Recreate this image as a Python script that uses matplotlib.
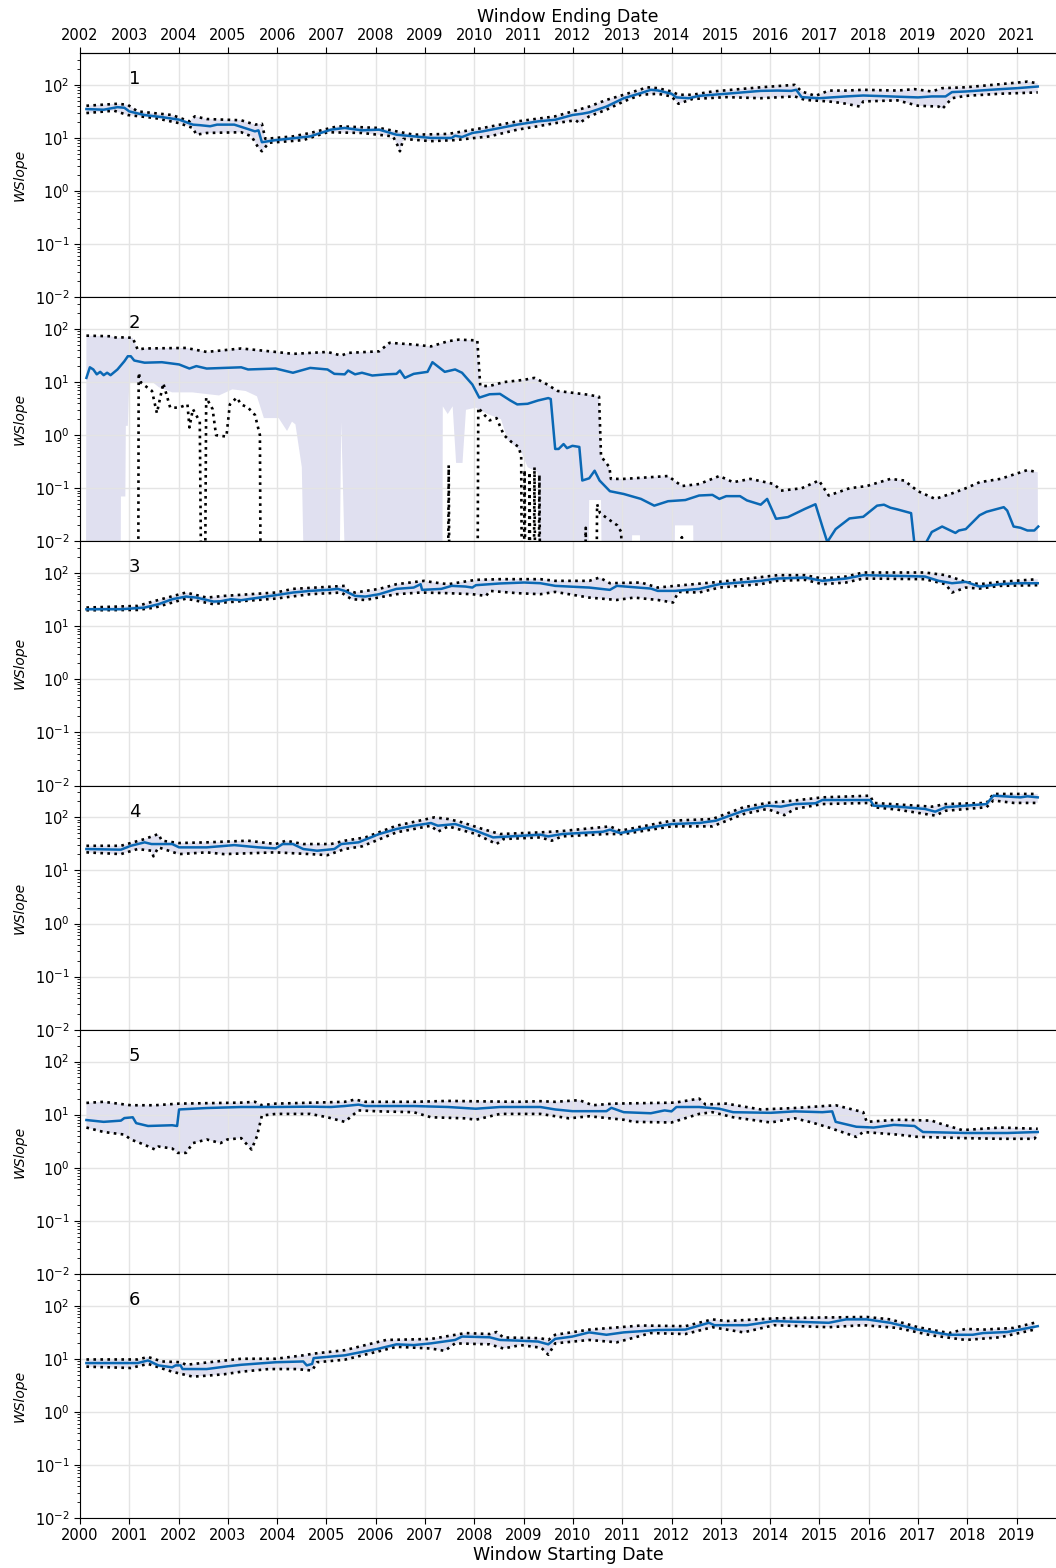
import numpy as np
import matplotlib
matplotlib.use("Agg")
import matplotlib.pyplot as plt
from matplotlib.ticker import FixedLocator, FormatStrFormatter

# values, x in decimal years (window start)
BELOW = 1e-4  # stands for "below the axis floor"

# ---- panel 1
p1_med_x = [2000.13, 2000.48, 2000.76, 2000.9, 2001.0, 2001.31, 2001.66, 2002.01, 2002.29, 2002.43, 2002.64, 2002.78,
            2003.13, 2003.34, 2003.55, 2003.62, 2003.69, 2003.97, 2004.39, 2004.67, 2005.09, 2005.37, 2005.72, 2006.07,
            2006.42, 2006.77, 2007.12, 2007.54, 2007.61, 2007.75, 2007.96, 2008.17, 2008.52, 2008.87, 2009.29, 2009.64,
            2009.99, 2010.19, 2010.33, 2010.68, 2011.03, 2011.38, 2011.58, 2011.72, 2012.0, 2012.1, 2012.35, 2012.56,
            2013.11, 2013.81, 2014.15, 2014.43, 2014.53, 2014.64, 2014.99, 2015.54, 2015.89, 2016.44, 2017.0, 2017.28,
            2017.56, 2017.69, 2017.97, 2018.67, 2019.01, 2019.43]
p1_med = [35, 34, 38, 37, 31.6, 27, 24.7, 22.1, 17.8, 17.4, 16.6, 17.8,
          17.8, 15.4, 13.3, 13.9, 8.3, 9.1, 10, 10.7, 14.3, 15.4, 13.9, 14.3,
          11.5, 10.7, 10, 10, 11, 10.4, 12.4, 13.3, 15.4, 17.8, 20.5, 22,
          27, 28.6, 30.3, 39, 56, 70, 80.6, 78.3, 68, 58, 56, 62,
          68, 77, 78, 77, 80.6, 58.7, 56, 60.5, 63, 60.5, 58, 60.5,
          60.5, 73, 75, 83, 86.6, 93]
p1_hi_x = [2000.13, 2000.76, 2000.97, 2001.17, 2001.87, 2002.22, 2002.33, 2002.57, 2003.27, 2003.55, 2003.69, 2003.76,
           2004.32, 2004.67, 2005.23, 2006.07, 2006.42, 2006.77, 2007.47, 2008.17, 2008.87, 2009.64, 2009.99, 2010.33,
           2010.68, 2011.03, 2011.51, 2011.72, 2012.0, 2012.14, 2012.42, 2012.83, 2013.81, 2014.5, 2014.64, 2014.92,
           2015.19, 2015.54, 2015.89, 2016.58, 2016.93, 2017.28, 2017.49, 2017.97, 2018.67, 2019.22, 2019.43]
p1_hi = [40.4, 44, 42, 31.6, 27, 20.5, 25.5, 22.7, 21.5, 17.8, 18.5, 9.6,
         10.7, 12.4, 16.6, 15.4, 13.3, 11.5, 11.9, 15.4, 20.5, 25.5, 31.6, 39,
         52, 65, 90, 86.6, 75, 65, 65, 75, 90, 100, 75, 62,
         78, 78, 80.6, 78, 83, 75, 86.6, 90, 103, 115, 107]
p1_lo_x = [2000.13, 2000.69, 2000.97, 2001.52, 2002.01, 2002.29, 2002.36, 2002.57, 2003.27, 2003.48, 2003.62, 2003.69,
           2003.83, 2004.53, 2005.02, 2005.72, 2006.35, 2006.45, 2006.49, 2006.56, 2007.12, 2007.61, 2008.31, 2008.87,
           2009.29, 2009.64, 2010.06, 2010.13, 2010.33, 2010.68, 2011.03, 2011.38, 2011.72, 2012.0, 2012.14, 2012.42,
           2013.11, 2013.81, 2014.5, 2014.71, 2015.19, 2015.47, 2015.82, 2015.89, 2016.58, 2017.0, 2017.42, 2017.49,
           2017.69, 2017.97, 2018.67, 2019.43]
p1_lo = [29.4, 32.6, 27, 23.7, 19, 15.4, 11.5, 12.4, 12.8, 10.7, 6.5, 5.6,
         8.1, 9.1, 12.8, 12.4, 10.7, 7.0, 5.6, 9.6, 8.7, 9.1, 10.7, 14.3,
         16.6, 19, 21.5, 19, 25.5, 34, 48.7, 65, 68, 60.5, 44, 54,
         58.7, 56, 60.5, 52, 48.7, 45.3, 39, 48.7, 51, 40.4, 39, 35,
         56, 62, 68, 72]

# ---- panel 2
p2_med_x = [2000.13, 2000.2, 2000.27, 2000.34, 2000.41, 2000.48, 2000.55, 2000.62, 2000.76, 2000.9, 2000.97, 2001.03,
            2001.1, 2001.31, 2001.66, 2002.01, 2002.22, 2002.36, 2002.57, 2003.27, 2003.41, 2003.97, 2004.32, 2004.67,
            2005.02, 2005.16, 2005.37, 2005.44, 2005.58, 2005.72, 2005.93, 2006.21, 2006.42, 2006.49, 2006.59, 2006.77,
            2007.05, 2007.15, 2007.4, 2007.61, 2007.75, 2007.96, 2008.1, 2008.31, 2008.52, 2008.73, 2008.87, 2009.08,
            2009.29, 2009.5, 2009.55, 2009.64, 2009.71, 2009.81, 2009.88, 2009.99, 2010.13, 2010.19, 2010.33, 2010.44,
            2010.54, 2010.75, 2011.03, 2011.38, 2011.65, 2011.93, 2012.28, 2012.56, 2012.83, 2012.97, 2013.11, 2013.39,
            2013.53, 2013.81, 2013.94, 2014.12, 2014.36, 2014.5, 2014.71, 2014.92, 2015.06, 2015.16, 2015.33, 2015.61,
            2015.89, 2016.17, 2016.31, 2016.44, 2016.58, 2016.86, 2016.92, 2016.97, 2017.17, 2017.28, 2017.49, 2017.76,
            2017.83, 2017.97, 2018.25, 2018.39, 2018.74, 2018.81, 2018.94, 2019.08, 2019.22, 2019.36, 2019.44]
p2_med = [12, 19, 17.3, 14, 15.6, 13.5, 15, 13.5, 17.3, 24.7, 30.7, 30.7,
          25.5, 23.2, 23.7, 21.5, 18, 20, 18, 19, 17.3, 18, 15, 18.5,
          17.3, 14.3, 14, 16.5, 14, 15, 13.3, 14, 14.3, 16.5, 12, 14.3,
          15.6, 23.7, 15.6, 17.3, 15, 9, 5.1, 5.9, 6.0, 4.5, 3.8, 3.9,
          4.5, 5.0, 4.8, 0.55, 0.55, 0.68, 0.57, 0.63, 0.6, 0.14, 0.154, 0.214,
          0.14, 0.088, 0.078, 0.063, 0.047, 0.057, 0.06, 0.073, 0.075, 0.063, 0.071, 0.071,
          0.059, 0.049, 0.063, 0.0266, 0.0286, 0.033, 0.041, 0.05, 0.019, 0.0097, 0.017, 0.027,
          0.029, 0.047, 0.049, 0.043, 0.04, 0.034, 0.0105, 0.0044, 0.0097, 0.015, 0.019, 0.0144,
          0.016, 0.017, 0.031, 0.036, 0.044, 0.038, 0.019, 0.018, 0.016, 0.016, 0.019]
p2_hi_x = [2000.13, 2000.62, 2000.76, 2000.9, 2001.07, 2001.17, 2001.31, 2002.15, 2002.57, 2003.27, 2003.97, 2004.32,
           2005.02, 2005.3, 2005.44, 2006.07, 2006.28, 2006.77, 2007.12, 2007.47, 2007.68, 2008.06, 2008.12, 2008.3,
           2008.6, 2009.0, 2009.22, 2009.42, 2009.69, 2010.3, 2010.53, 2010.57, 2010.74, 2010.77, 2011.03, 2011.93,
           2012.21, 2012.56, 2012.97, 2013.25, 2013.6, 2014.08, 2014.22, 2014.64, 2014.99, 2015.19, 2015.61, 2015.96,
           2016.44, 2016.72, 2017.0, 2017.35, 2017.69, 2017.97, 2018.25, 2018.67, 2019.22, 2019.43]
p2_hi = [75, 73, 68, 70, 68, 41, 43, 44, 37, 43, 37, 34,
         37, 31.6, 35.5, 38, 55, 51, 47, 59, 63, 61, 8.5, 8.4,
         10, 11, 12, 9.7, 6.8, 5.8, 5.3, 0.4, 0.25, 0.15, 0.15, 0.17,
         0.11, 0.12, 0.17, 0.13, 0.15, 0.12, 0.09, 0.10, 0.14, 0.073, 0.10, 0.11,
         0.15, 0.14, 0.088, 0.063, 0.08, 0.10, 0.13, 0.15, 0.22, 0.20]
p2_lo_x = [2000.12, 2001.18, 2001.19, 2001.24, 2001.46, 2001.56, 2001.69, 2001.83, 2002.01, 2002.18, 2002.22, 2002.29,
           2002.43, 2002.47, 2002.53, 2002.56, 2002.69, 2002.76, 2002.97, 2003.04, 2003.18, 2003.27, 2003.41, 2003.55,
           2003.65, 2003.67, 2007.46, 2007.48, 2007.50, 2008.06, 2008.08, 2008.17, 2008.31, 2008.45, 2008.6, 2008.75,
           2008.9, 2008.95, 2008.97, 2009.0, 2009.02, 2009.04, 2009.1, 2009.12, 2009.14, 2009.2, 2009.22, 2009.24,
           2009.3, 2009.32, 2009.34, 2010.24, 2010.26, 2010.28, 2010.47, 2010.49, 2010.55, 2010.75, 2010.9, 2010.98,
           2011.0, 2012.2, 2012.21, 2012.22, 2019.44]
p2_lo = [BELOW, BELOW, 15, 9.7, 6.8, 2.6, 9.5, 3.3, 3.3, 3.8, 1.4, 3.1,
         1.8, BELOW, BELOW, 5.1, 3.1, 1.0, 0.94, 3.8, 5.1, 3.8, 3.3, 2.4,
         1.0, BELOW, BELOW, 0.27, BELOW, BELOW, 3.3, 2.6, 1.9, 2.1, 1.0, 0.75,
         0.6, 0.4, BELOW, BELOW, 0.22, BELOW, BELOW, 0.2, BELOW, BELOW, 0.25, BELOW,
         BELOW, 0.18, BELOW, BELOW, 0.018, BELOW, BELOW, 0.05, 0.034, 0.025, 0.02, 0.015,
         BELOW, BELOW, 0.012, BELOW, BELOW]
# lower edge of the shaded band in panel 2 (it differs from the dotted bound)
p2_band_lo_x = [2000.12, 2000.82, 2000.83, 2000.92, 2000.93, 2000.97, 2001.0, 2001.47, 2001.6, 2001.87, 2002.28, 2002.82,
                2003.09, 2003.36, 2003.59, 2003.73, 2004.03, 2004.2, 2004.3, 2004.37, 2004.5, 2004.57, 2005.25, 2005.3,
                2005.35, 2005.42, 2007.35, 2007.36, 2007.46, 2007.56, 2007.63, 2007.76, 2007.83, 2008.03, 2008.27, 2008.54,
                2008.68, 2008.95, 2009.08, 2009.28, 2009.35, 2010.3, 2010.33, 2010.57, 2010.6, 2011.18, 2011.2, 2011.36,
                2011.38, 2012.05, 2012.07, 2012.44, 2012.46, 2019.44]
p2_band_lo = [BELOW, BELOW, 0.07, 0.07, 1.5, 1.5, 10, 10, 8, 6.4, 6.4, 5.6,
              7.3, 6.8, 5.4, 2.1, 2.1, 1.2, 1.8, 1.6, 0.25, BELOW, BELOW, 1.8,
              0.03, BELOW, BELOW, 3.5, 2.5, 3.5, 0.3, 0.3, 3, 3.3, 2.5, 2.0,
              0.8, 0.5, 0.25, 0.2, BELOW, BELOW, 0.06, 0.06, BELOW, BELOW, 0.013, 0.013,
              BELOW, BELOW, 0.02, 0.02, BELOW, BELOW]

# ---- panel 3
p3_med_x = [2000.13, 2000.83, 2001.31, 2001.59, 2001.87, 2002.15, 2002.36, 2002.71, 2002.85, 2003.06, 2003.27, 2003.97,
            2004.32, 2004.67, 2005.02, 2005.23, 2005.37, 2005.58, 2005.79, 2006.07, 2006.42, 2006.77, 2006.91, 2006.94,
            2007.33, 2007.54, 2007.82, 2007.96, 2008.03, 2008.52, 2009.01, 2009.34, 2009.64, 2010.33, 2010.75, 2010.89,
            2011.58, 2011.72, 2012.07, 2012.56, 2012.97, 2013.81, 2014.15, 2014.71, 2015.06, 2015.54, 2015.89, 2016.58,
            2017.14, 2017.42, 2017.69, 2017.97, 2018.25, 2018.67, 2019.01, 2019.43]
p3_med = [20.9, 20.9, 22.5, 26, 32.3, 36.3, 34.7, 29.2, 29.6, 32.3, 31, 38.5,
          43.2, 46.4, 48.5, 50.6, 46.4, 37.3, 36.3, 40.2, 50.6, 53.6, 62, 48.5,
          50.6, 57.7, 56, 53.6, 59.4, 64, 66.7, 64.7, 57.7, 53.6, 48.5, 57.7,
          51.3, 46.4, 46.4, 50.6, 62, 71.7, 79.3, 82.8, 71.7, 79.3, 91.7, 89,
          86.5, 71.7, 64.7, 68.6, 56, 62, 64.7, 64.7]
p3_hi_x = [2000.13, 2001.17, 2001.52, 2002.15, 2002.57, 2002.92, 2003.97, 2004.32, 2005.37, 2005.44, 2005.58, 2006.07,
           2006.42, 2006.98, 2007.19, 2007.47, 2008.03, 2008.52, 2009.34, 2009.64, 2010.33, 2010.54, 2010.75, 2011.38,
           2011.72, 2012.07, 2012.97, 2014.15, 2014.71, 2015.06, 2015.54, 2015.89, 2017.14, 2017.56, 2017.97, 2018.25,
           2018.67, 2019.43]
p3_hi = [22.5, 24.2, 30, 43.2, 34.7, 37.3, 43.2, 50.6, 57.7, 46.4, 43.2, 50.6,
         62, 71.7, 66.7, 62, 74.9, 77.1, 77.1, 71.7, 71.7, 82.8, 64.7, 66.7,
         53.6, 57.7, 68.6, 91.7, 91.7, 79.3, 86.5, 103, 103, 91.7, 68.6, 62,
         68.6, 77.1]
p3_lo_x = [2000.13, 2001.17, 2001.52, 2002.15, 2002.71, 2002.92, 2003.97, 2004.67, 2005.3, 2005.51, 2005.79, 2006.42,
           2006.91, 2007.47, 2007.96, 2008.24, 2008.31, 2008.87, 2009.34, 2009.64, 2010.33, 2010.89, 2011.24, 2011.72,
           2012.03, 2012.14, 2012.56, 2012.97, 2013.81, 2014.15, 2014.71, 2015.06, 2015.54, 2015.89, 2017.14, 2017.56,
           2017.69, 2017.97, 2018.25, 2018.67, 2019.43]
p3_lo = [20, 20.3, 22.5, 33.2, 26, 28, 33.2, 40.2, 43.2, 32.3, 31.3, 40.2,
         43.2, 42, 40.2, 37.3, 46.4, 42, 40.2, 44.4, 34.7, 31.3, 34.7, 31.3,
         28, 44.4, 43.2, 53.6, 62, 71.7, 74.9, 62, 66.7, 79.3, 77.1, 62,
         43.2, 53.6, 51.3, 57.7, 59.4]

# ---- panel 4
p4_med_x = [2000.13, 2000.83, 2001.03, 2001.31, 2001.45, 2001.87, 2002.01, 2002.57, 2003.13, 2003.62, 2003.97, 2004.11,
            2004.32, 2004.53, 2004.81, 2005.16, 2005.3, 2005.65, 2006.07, 2006.42, 2006.77, 2007.12, 2007.26, 2007.61,
            2008.03, 2008.38, 2008.73, 2009.34, 2009.5, 2009.78, 2010.61, 2010.75, 2010.96, 2011.38, 2012.0, 2012.56,
            2012.9, 2013.46, 2013.94, 2014.22, 2014.5, 2014.92, 2015.06, 2016.03, 2016.1, 2016.58, 2017.14, 2017.35,
            2017.56, 2018.39, 2018.53, 2019.08, 2019.22, 2019.43]
p4_med = [25.3, 24.6, 29.1, 33.8, 31.4, 31.4, 27.2, 27.2, 30, 27.2, 26, 31.4,
          31.4, 25.3, 23.5, 25.3, 31.4, 33.8, 48.5, 60.2, 69.6, 78.2, 69.6, 74.8,
          56, 41.9, 43.8, 47.1, 43.8, 48.5, 53.6, 58.5, 50.6, 60.2, 74.8, 78.2,
          86.5, 133, 166, 159, 178, 184, 212, 212, 166, 159, 144, 128,
          155, 178, 256, 238, 249, 238]
p4_hi_x = [2000.13, 2000.83, 2001.31, 2001.59, 2001.66, 2002.01, 2002.57, 2003.41, 2003.97, 2004.18, 2004.53, 2005.09,
           2005.37, 2005.79, 2006.42, 2007.19, 2007.47, 2007.75, 2008.17, 2008.52, 2009.34, 2009.78, 2010.75, 2010.96,
           2012.0, 2012.83, 2013.46, 2013.94, 2014.5, 2015.06, 2016.03, 2016.1, 2017.28, 2017.56, 2018.39, 2018.53,
           2019.43]
p4_hi = [29.1, 29.1, 39, 48.5, 36.3, 32.8, 33.8, 36.3, 31.4, 36.3, 31.4, 31.4,
         36.3, 41.9, 69.6, 100, 93, 80.5, 60.2, 48.5, 52.1, 55.2, 67.6, 56,
         86.5, 93, 155, 187, 208, 238, 256, 187, 159, 178, 187, 276,
         276]
p4_lo_x = [2000.13, 2000.83, 2001.17, 2001.45, 2001.49, 2001.59, 2002.01, 2002.57, 2002.92, 2003.97, 2004.67, 2005.02,
           2005.37, 2005.72, 2006.42, 2007.12, 2007.26, 2007.47, 2008.03, 2008.45, 2008.59, 2009.34, 2009.57, 2009.78,
           2010.68, 2011.03, 2012.0, 2012.83, 2013.46, 2013.94, 2014.29, 2014.5, 2015.06, 2016.03, 2016.1, 2016.58,
           2017.35, 2017.56, 2018.39, 2018.53, 2018.94, 2019.43]
p4_lo = [21.9, 20.3, 25.3, 23.5, 18.4, 27.2, 20.3, 21.9, 20.3, 21.9, 20.3, 19.4,
         25.3, 28.4, 52.1, 69.6, 53.6, 67.6, 48.5, 31.4, 39, 41.9, 36.3, 43.8,
         48.5, 48.5, 67.6, 67.6, 115, 144, 110, 144, 178, 187, 155, 140,
         108, 133, 155, 208, 187, 187]

# ---- panel 5
p5_med_x = [2000.13, 2000.48, 2000.83, 2000.9, 2001.07, 2001.14, 2001.38, 2001.87, 2001.97, 2002.01, 2002.57, 2003.27,
            2003.97, 2004.67, 2005.09, 2005.37, 2005.65, 2005.79, 2006.77, 2007.47, 2008.03, 2008.52, 2009.34, 2009.64,
            2009.99, 2010.68, 2010.78, 2011.03, 2011.58, 2011.86, 2012.0, 2012.1, 2012.56, 2012.97, 2013.25, 2014.01,
            2014.5, 2015.06, 2015.26, 2015.33, 2015.75, 2016.1, 2016.51, 2016.93, 2017.1, 2017.97, 2018.81, 2019.43]
p5_med = [7.9, 7.3, 7.7, 8.6, 8.9, 6.9, 6.1, 6.3, 6.1, 12.5, 13.3, 13.9,
          13.9, 14.1, 13.9, 14.5, 15.4, 14.5, 14.5, 13.9, 12.9, 13.9, 13.9, 12.5,
          11.6, 11.6, 13.4, 11.1, 10.6, 12, 11.5, 13.9, 13.9, 12.9, 11.1, 10.8,
          11.5, 11.1, 11.5, 7.3, 5.9, 5.7, 6.4, 6.1, 4.7, 4.5, 4.5, 4.7]
p5_hi_x = [2000.13, 2000.48, 2001.03, 2001.52, 2002.01, 2003.27, 2003.55, 2003.69, 2003.97, 2005.37, 2005.58, 2005.79,
           2006.77, 2007.47, 2008.87, 2009.34, 2009.64, 2010.13, 2010.4, 2010.82, 2012.07, 2012.56, 2012.69, 2013.11,
           2013.81, 2014.5, 2015.33, 2015.89, 2015.96, 2016.58, 2017.28, 2017.42, 2017.9, 2018.67, 2019.43]
p5_hi = [16.6, 17.4, 15, 15, 16.1, 16.8, 17.4, 15, 16.1, 17.4, 19.2, 17.4,
         17.4, 18.1, 17.4, 17.9, 17.4, 18.7, 15, 16.1, 16.8, 20, 15.5, 16.1,
         12.5, 13.3, 15, 11.1, 7.3, 8, 7.7, 6.9, 5.1, 5.7, 5.4]
p5_lo_x = [2000.13, 2000.48, 2000.9, 2001.03, 2001.31, 2001.52, 2001.59, 2001.87, 2001.98, 2002.15, 2002.29, 2002.57,
           2002.85, 2002.99, 2003.27, 2003.48, 2003.59, 2003.69, 2003.97, 2004.67, 2005.02, 2005.37, 2005.65, 2006.07,
           2006.77, 2007.12, 2007.82, 2008.03, 2008.52, 2009.34, 2009.92, 2010.33, 2011.03, 2011.24, 2012.0, 2012.56,
           2012.83, 2013.25, 2014.01, 2014.5, 2014.85, 2015.19, 2015.75, 2015.89, 2016.58, 2017.0, 2017.97, 2018.67,
           2019.36, 2019.43]
p5_lo = [5.7, 4.7, 4.2, 3.4, 2.7, 2.2, 2.5, 2.3, 1.9, 1.9, 2.9, 3.4,
         2.9, 3.4, 3.6, 2.2, 3.9, 9.6, 10.3, 10.3, 8.9, 7.3, 12, 11.5,
         11.1, 8.9, 8.5, 8, 10.3, 10.3, 8.5, 9.3, 8, 7.3, 7.1, 10.3,
         11.1, 8.9, 7.1, 8.5, 7.1, 5.7, 3.8, 4.7, 4.2, 3.8, 3.6, 3.5,
         3.5, 4.2]

# ---- panel 6
p6_med_x = [2000.13, 2001.17, 2001.38, 2001.59, 2001.87, 2001.94, 2002.04, 2002.08, 2002.57, 2002.99, 2003.27, 2003.97,
            2004.53, 2004.6, 2004.71, 2004.74, 2005.37, 2006.07, 2006.42, 2006.77, 2007.12, 2007.61, 2007.75, 2008.31,
            2008.52, 2008.87, 2009.29, 2009.5, 2009.64, 2009.99, 2010.33, 2010.68, 2011.03, 2011.72, 2012.28, 2012.76,
            2012.87, 2013.53, 2014.08, 2015.19, 2015.54, 2015.96, 2016.44, 2017.0, 2017.63, 2018.11, 2018.32, 2018.81,
            2019.43]
p6_med = [8.3, 8.3, 9.3, 7.5, 6.9, 7.5, 7.5, 6.4, 6.4, 7.2, 7.7, 8.6,
          8.9, 7.5, 8, 10.3, 11.6, 15.6, 18.7, 18.1, 19.5, 22.6, 26.2, 25.4,
          22.6, 22, 21.1, 18.7, 23.7, 26.2, 31.4, 28.3, 31.4, 34.8, 35.4, 47.6,
          42.9, 42.9, 51.3, 47.6, 55.2, 55.2, 47.6, 35.4, 28.3, 28.3, 30.5, 31.9,
          41.1]
p6_hi_x = [2000.13, 2001.17, 2001.38, 2001.66, 2002.05, 2002.15, 2003.27, 2003.97, 2004.53, 2004.74, 2005.37, 2006.21,
           2007.12, 2007.82, 2008.31, 2008.45, 2008.59, 2009.34, 2009.5, 2009.64, 2010.33, 2011.38, 2012.28, 2012.83,
           2013.11, 2014.08, 2014.85, 2015.96, 2016.44, 2017.0, 2017.63, 2017.97, 2018.32, 2018.94, 2019.36]
p6_hi = [9.7, 9.7, 10.8, 8.9, 8.6, 7.7, 10, 10, 11.6, 12.5, 14.5, 22.6,
         23.6, 30.5, 29.2, 31.9, 25.2, 24.4, 22.6, 28.3, 35.4, 42.3, 41.1, 55.2,
         51.3, 57.6, 59.5, 61.3, 55.2, 39.3, 30.5, 36.5, 35.4, 38.1, 47.6]
p6_lo_x = [2000.13, 2001.03, 2001.38, 2001.87, 2002.29, 2002.57, 2002.92, 2003.27, 2003.83, 2004.39, 2004.71, 2004.81,
           2005.37, 2006.07, 2006.42, 2007.12, 2007.4, 2007.61, 2008.31, 2008.59, 2008.94, 2009.36, 2009.5, 2009.64,
           2010.33, 2010.89, 2011.58, 2012.28, 2012.83, 2013.46, 2014.08, 2015.19, 2015.89, 2016.58, 2017.28, 2017.97,
           2018.67, 2019.36]
p6_lo = [7.1, 6.7, 8, 5.7, 4.6, 4.8, 5.1, 5.7, 6.4, 6.4, 6.0, 8.6,
         9.6, 13.9, 16.8, 15.6, 14.1, 19.5, 18.7, 15.6, 18.1, 16.1, 11.9, 19.5,
         22.6, 20.4, 30.5, 29.2, 39.3, 31.4, 42.9, 39.3, 42.9, 38.1, 27.5, 22.6,
         25.4, 35.4]

start_years = list(range(2000, 2020))
end_years = list(range(2002, 2022))

BLUE = '#0a68b4'
BAND = '#e0e0f0'


def draw_panel(ax, num, med_x, med, hi_x, hi, lo_x, lo, band_lo_x=None, band_lo=None):
    if band_lo_x is None:
        band_lo_x, band_lo = lo_x, lo
    # shaded band: upper bound forward, lower edge back
    ax.fill(np.r_[hi_x, band_lo_x[::-1]], np.r_[hi, band_lo[::-1]],
            color=BAND, lw=0, zorder=1)
    ax.plot(hi_x, hi, ':', color='black', lw=1.9, zorder=3)
    ax.plot(lo_x, lo, ':', color='black', lw=1.9, zorder=3)
    ax.plot(med_x, med, '-', color=BLUE, lw=1.8, zorder=4)
    ax.text(0.056, 0.93, str(num), transform=ax.transAxes, ha='center', va='top', fontsize=13)


fig = plt.figure(figsize=(10.56, 15.68), dpi=100)
axes = fig.subplots(6, 1, sharex=True)
fig.subplots_adjust(left=80 / 1056, right=1.0, top=1 - 53 / 1568, bottom=1 - 1518 / 1568, hspace=0)

panels = [
    (p1_med_x, p1_med, p1_hi_x, p1_hi, p1_lo_x, p1_lo, None, None),
    (p2_med_x, p2_med, p2_hi_x, p2_hi, p2_lo_x, p2_lo, p2_band_lo_x, p2_band_lo),
    (p3_med_x, p3_med, p3_hi_x, p3_hi, p3_lo_x, p3_lo, None, None),
    (p4_med_x, p4_med, p4_hi_x, p4_hi, p4_lo_x, p4_lo, None, None),
    (p5_med_x, p5_med, p5_hi_x, p5_hi, p5_lo_x, p5_lo, None, None),
    (p6_med_x, p6_med, p6_hi_x, p6_hi, p6_lo_x, p6_lo, None, None),
]

for i, (ax, d) in enumerate(zip(axes, panels)):
    mx, m, hx, h, lx, l, bx, b = d
    if bx is not None:
        draw_panel(ax, i + 1, mx, m, hx, h, lx, l, np.array(bx), np.array(b))
    else:
        draw_panel(ax, i + 1, mx, m, hx, h, np.array(lx), np.array(l))
    ax.set_yscale('log')
    ax.set_ylim(1e-2, 10 ** 2.6)
    ax.set_xlim(2000, 2019.8)
    ax.xaxis.set_major_locator(FixedLocator(start_years))
    ax.grid(True, which='major', color='#e4e4e4', lw=1.0)
    ax.set_ylabel('WSlope', fontsize=10, style='italic')
    ax.yaxis.set_label_coords(-0.055, 0.5)
    ax.tick_params(axis='y', which='major', labelsize=10.5, length=4)
    ax.tick_params(axis='y', which='minor', length=2)
    ax.spines['right'].set_visible(False)
    if i < 5:
        ax.tick_params(axis='x', which='both', bottom=False, labelbottom=False)

# bottom axis: window start
axes[-1].xaxis.set_major_formatter(FormatStrFormatter('%d'))
axes[-1].tick_params(axis='x', labelsize=10.5, length=4)
axes[-1].set_xlabel('Window Starting Date', fontsize=12.5, labelpad=2)

# top axis: window end is two years later
sec = axes[0].secondary_xaxis('top', functions=(lambda x: x + 2, lambda x: x - 2))
sec.xaxis.set_major_locator(FixedLocator(end_years))
sec.xaxis.set_major_formatter(FormatStrFormatter('%d'))
sec.tick_params(axis='x', labelsize=10.5, length=4)
sec.set_xlabel('Window Ending Date', fontsize=12.5, labelpad=4)

fig.savefig('out.png', dpi=100)
